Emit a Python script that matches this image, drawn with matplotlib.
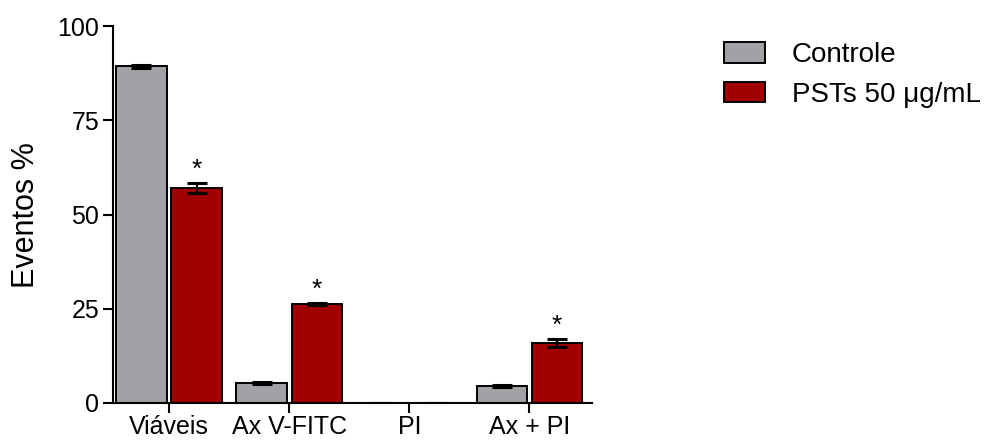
import numpy as np
import matplotlib
matplotlib.use('Agg')
import matplotlib.pyplot as plt

plt.rcParams['font.family'] = ['Liberation Sans', 'DejaVu Sans']

categories = ['Viáveis', 'Ax V-FITC', 'PI', 'Ax + PI']
controle = [89.4, 5.3, 0.0, 4.5]
controle_err = [0.4, 0.3, 0.0, 0.3]
psts = [57.1, 26.3, 0.0, 15.9]
psts_err = [1.4, 0.3, 0.0, 1.1]
significant = [True, True, False, True]

COLOR_CTRL = '#a2a1a6'
COLOR_PSTS = '#a00000'

fig = plt.figure(figsize=(10.05, 4.43), dpi=100)
ax = fig.add_axes([0.1124, 0.0903, 0.4766, 0.8507])

x = np.arange(len(categories))
width = 0.42
offset = 0.23

err_kw = dict(elinewidth=1.6, capthick=2.2, capsize=7, ecolor='black')
ax.bar(x - offset, controle, width, yerr=controle_err, color=COLOR_CTRL,
       edgecolor='black', linewidth=1.4, label='Controle', error_kw=err_kw)
ax.bar(x + offset, psts, width, yerr=psts_err, color=COLOR_PSTS,
       edgecolor='black', linewidth=1.4, label='PSTs 50 \u03bcg/mL', error_kw=err_kw)

# significance stars
for xi, val, err, sig in zip(x, psts, psts_err, significant):
    if sig:
        ax.text(xi + offset, val + err + 0.3, '*', ha='center', va='bottom',
                fontsize=19)

ax.set_xlim(-0.467, 3.52)
ax.set_ylim(0, 100)
ax.set_yticks([0, 25, 50, 75, 100])
ax.set_xticks(x)
ax.set_xticklabels(categories)
ax.set_ylabel('Eventos %', fontsize=22, labelpad=12)

for side in ['top', 'right']:
    ax.spines[side].set_visible(False)
for side in ['left', 'bottom']:
    ax.spines[side].set_linewidth(1.5)
ax.tick_params(axis='both', labelsize=18, width=1.5, length=7, direction='out')
ax.tick_params(axis='y', pad=3)
ax.tick_params(axis='x', pad=2)

ax.legend(loc='upper left', bbox_to_anchor=(0.7204, 0.905),
          bbox_transform=fig.transFigure, frameon=False, borderpad=0,
          borderaxespad=0, fontsize=20, handlelength=1.47, handleheight=0.75,
          labelspacing=0.5, handletextpad=0.97)

fig.savefig('out.png', dpi=100)
